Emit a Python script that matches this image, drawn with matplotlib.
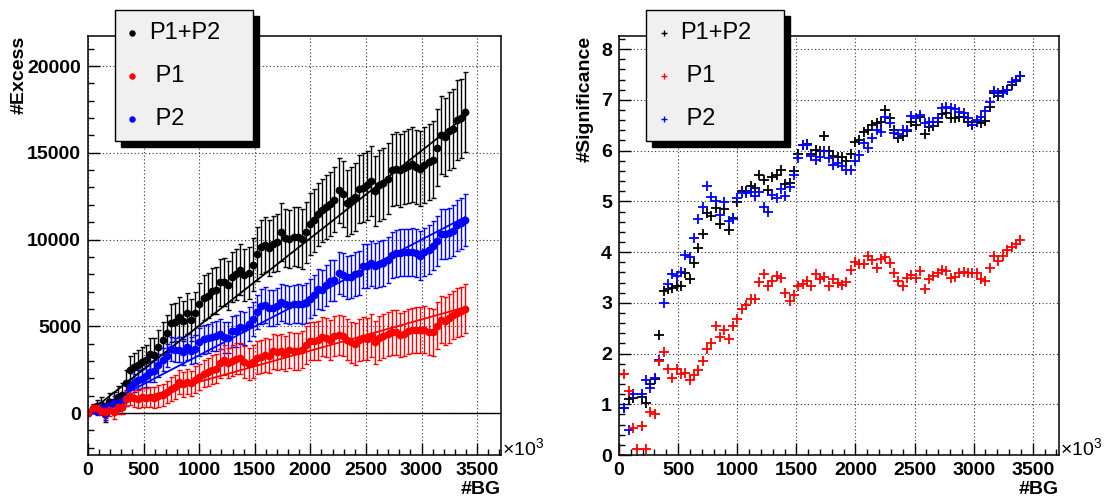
import matplotlib
matplotlib.use("Agg")
import matplotlib.pyplot as plt
from matplotlib.patches import Rectangle
from matplotlib.ticker import MultipleLocator
from matplotlib.lines import Line2D

plt.rcParams['font.family'] = ['Liberation Sans', 'DejaVu Sans']
plt.rcParams['mathtext.fontset'] = 'custom'
plt.rcParams['mathtext.rm'] = 'Liberation Sans'

# background counts (x10^3)
bg = [0, 46, 82, 119, 156, 193, 230, 266, 303, 340,
      377, 414, 450, 487, 524, 561, 598, 634, 671, 708,
      745, 782, 818, 855, 892, 929, 966, 1002, 1039, 1076,
      1113, 1150, 1186, 1223, 1260, 1297, 1334, 1370, 1407, 1444,
      1481, 1518, 1554, 1591, 1628, 1665, 1702, 1738, 1775, 1812,
      1849, 1886, 1922, 1959, 1996, 2033, 2070, 2106, 2143, 2180,
      2217, 2254, 2290, 2327, 2364, 2401, 2438, 2474, 2511, 2548,
      2585, 2622, 2658, 2695, 2732, 2769, 2806, 2842, 2879, 2916,
      2953, 2990, 3026, 3063, 3100, 3137, 3174, 3210, 3247, 3284,
      3321, 3358, 3394]

# excess
exc_p12 = [0, 249, 396, 486, -50, 628, 619, 907, 1037, 1728,
           2490, 2639, 2770, 2926, 3036, 3375, 3369, 3790, 4209, 4594,
           5177, 5239, 5532, 5283, 5740, 5372, 5758, 6260, 6656, 6770,
           7030, 7080, 7532, 7537, 7369, 7851, 7990, 8247, 7966, 8088,
           8542, 9174, 9562, 9710, 9500, 9752, 9828, 10423, 10095, 10038,
           10172, 10134, 10038, 10423, 10905, 11098, 11444, 11676, 11868, 12061,
           12292, 12832, 12639, 12099, 12253, 12446, 12928, 12986, 13121, 13371,
           12774, 13121, 13256, 13506, 13988, 14084, 13988, 14142, 14219, 14335,
           14181, 14084, 14277, 14470, 14604, 15298, 16011, 15915, 16262, 16397,
           16879, 16975, 17360]
exc_p1 = [0, 262, 280, 144, 34, 193, 41, 338, 344, 833,
          962, 838, 787, 911, 889, 931, 884, 972, 1055, 1207,
          1385, 1507, 1780, 1654, 1801, 1704, 1925, 2072, 2259, 2360,
          2507, 2547, 2864, 3045, 2892, 3015, 3136, 3151, 2919, 2809,
          2967, 3176, 3252, 3337, 3290, 3546, 3494, 3560, 3423, 3605,
          3556, 3558, 3649, 3931, 4142, 4147, 4185, 4402, 4335, 4203,
          4447, 4516, 4427, 4225, 4068, 3983, 4193, 4298, 4268, 4460,
          4067, 4322, 4428, 4549, 4641, 4648, 4496, 4567, 4699, 4758,
          4760, 4776, 4804, 4674, 4661, 5044, 5386, 5283, 5449, 5662,
          5779, 5868, 6015]
exc_p2 = [0, 158, 114, 334, -64, 428, 567, 553, 675, 879,
          1480, 1754, 1931, 1982, 2108, 2386, 2430, 2741, 3080, 3314,
          3696, 3629, 3650, 3536, 3795, 3582, 3683, 4091, 4242, 4314,
          4408, 4412, 4548, 4362, 4344, 4700, 4720, 4947, 4881, 5116,
          5405, 5809, 6151, 6224, 6071, 6053, 6175, 6378, 6283, 6212,
          6308, 6310, 6272, 6345, 6595, 6808, 7134, 7079, 7375, 7634,
          7638, 8071, 7979, 7811, 7849, 8013, 8058, 8483, 8486, 8636,
          8476, 8580, 8640, 8805, 9118, 9206, 9241, 9268, 9261, 9281,
          9203, 9075, 9274, 9411, 9642, 9925, 10310, 10303, 10360, 10519,
          10819, 10930, 11115]

# excess errors
err_p12 = [0, 268, 360, 434, 496, 551, 601, 648, 691, 732,
           771, 807, 842, 876, 909, 940, 971, 1000, 1029, 1056,
           1083, 1110, 1136, 1161, 1186, 1210, 1233, 1257, 1280, 1302,
           1324, 1346, 1367, 1388, 1409, 1430, 1450, 1470, 1489, 1509,
           1528, 1547, 1565, 1584, 1602, 1620, 1638, 1655, 1673, 1690,
           1707, 1724, 1741, 1757, 1774, 1790, 1806, 1822, 1838, 1854,
           1869, 1885, 1900, 1915, 1930, 1945, 1960, 1975, 1989, 2004,
           2018, 2033, 2047, 2061, 2075, 2089, 2103, 2116, 2130, 2144,
           2157, 2171, 2184, 2197, 2210, 2224, 2236, 2249, 2262, 2275,
           2288, 2300, 2313]
err_p1 = [0, 165, 222, 266, 305, 339, 370, 398, 425, 450,
          474, 496, 518, 539, 559, 578, 597, 615, 632, 649,
          666, 682, 698, 713, 729, 744, 758, 773, 787, 800,
          814, 827, 840, 853, 866, 879, 891, 903, 915, 927,
          939, 951, 962, 973, 985, 996, 1007, 1017, 1028, 1039,
          1049, 1059, 1070, 1080, 1090, 1100, 1110, 1120, 1129, 1139,
          1149, 1158, 1168, 1177, 1186, 1196, 1205, 1214, 1223, 1232,
          1240, 1249, 1258, 1267, 1275, 1284, 1292, 1301, 1309, 1318,
          1326, 1334, 1342, 1351, 1359, 1367, 1374, 1383, 1390, 1398,
          1406, 1414, 1422]
err_p2 = [0, 172, 232, 278, 318, 354, 386, 416, 444, 470,
          495, 519, 541, 563, 584, 604, 623, 642, 661, 679,
          696, 713, 730, 746, 762, 777, 792, 807, 822, 836,
          851, 865, 878, 892, 905, 918, 931, 944, 957, 969,
          981, 993, 1005, 1017, 1029, 1040, 1052, 1063, 1074, 1086,
          1097, 1107, 1118, 1129, 1139, 1150, 1160, 1170, 1180, 1191,
          1201, 1210, 1220, 1230, 1240, 1250, 1259, 1268, 1278, 1287,
          1296, 1306, 1315, 1324, 1333, 1342, 1351, 1359, 1368, 1377,
          1386, 1394, 1403, 1411, 1420, 1428, 1436, 1445, 1453, 1461,
          1470, 1477, 1486]

# significance
sig_p12 = [0, 0.93, 1.10, 1.12, -0.1, 1.14, 1.03, 1.40, 1.50, 2.36,
           3.23, 3.27, 3.29, 3.34, 3.34, 3.59, 3.47, 3.79, 4.09, 4.35,
           4.78, 4.72, 4.87, 4.55, 4.84, 4.44, 4.67, 4.98, 5.20, 5.20,
           5.31, 5.26, 5.51, 5.43, 5.23, 5.49, 5.51, 5.61, 5.35, 5.36,
           5.59, 5.93, 6.11, 6.13, 5.93, 6.02, 6.00, 6.28, 6.00, 5.90,
           5.87, 5.87, 5.80, 5.94, 6.17, 6.20, 6.36, 6.41, 6.51, 6.54,
           6.57, 6.80, 6.64, 6.40, 6.25, 6.29, 6.38, 6.57, 6.51, 6.66,
           6.33, 6.46, 6.48, 6.56, 6.73, 6.74, 6.64, 6.64, 6.66, 6.67,
           6.57, 6.51, 6.56, 6.54, 6.59, 6.87, 7.13, 7.08, 7.17, 7.20,
           7.30, 7.38, 7.48]
sig_p1 = [0, 1.59, 1.26, 0.54, 0.11, 0.57, 0.11, 0.85, 0.81, 1.85,
          2.03, 1.69, 1.52, 1.69, 1.59, 1.61, 1.48, 1.58, 1.67, 1.86,
          2.08, 2.21, 2.55, 2.32, 2.47, 2.29, 2.54, 2.68, 2.87, 2.95,
          3.08, 3.08, 3.41, 3.57, 3.34, 3.43, 3.52, 3.49, 3.19, 3.03,
          3.16, 3.34, 3.38, 3.43, 3.34, 3.56, 3.47, 3.50, 3.33, 3.47,
          3.39, 3.36, 3.41, 3.64, 3.80, 3.77, 3.77, 3.93, 3.84, 3.69,
          3.87, 3.90, 3.79, 3.59, 3.43, 3.33, 3.48, 3.54, 3.49, 3.62,
          3.28, 3.46, 3.52, 3.59, 3.64, 3.62, 3.48, 3.51, 3.59, 3.61,
          3.59, 3.58, 3.58, 3.46, 3.43, 3.69, 3.92, 3.82, 3.92, 4.05,
          4.11, 4.15, 4.23]
sig_p2 = [0, 0.92, 0.49, 1.20, -0.2, 1.21, 1.47, 1.33, 1.52, 1.87,
          2.99, 3.38, 3.57, 3.52, 3.61, 3.95, 3.90, 4.27, 4.66, 4.88,
          5.31, 5.09, 5.00, 4.74, 4.98, 4.61, 4.65, 5.07, 5.16, 5.16,
          5.18, 5.10, 5.18, 4.89, 4.80, 5.12, 5.07, 5.24, 5.10, 5.28,
          5.51, 5.85, 6.12, 6.12, 5.90, 5.82, 5.87, 6.00, 5.85, 5.72,
          5.75, 5.70, 5.61, 5.62, 5.79, 5.92, 6.15, 6.05, 6.25, 6.41,
          6.36, 6.67, 6.54, 6.35, 6.33, 6.41, 6.40, 6.69, 6.64, 6.71,
          6.54, 6.57, 6.57, 6.65, 6.84, 6.86, 6.84, 6.82, 6.77, 6.74,
          6.64, 6.51, 6.61, 6.67, 6.79, 6.95, 7.18, 7.13, 7.13, 7.20,
          7.36, 7.40, 7.48]

# straight-line fits: (x start, x end), (y start, y end)
fit_x = [0, 3394]
fit_p12 = [0, 17100]
fit_p1 = [0, 6100]
fit_p2 = [0, 11300]

names = ["P1+P2", " P1", " P2"]
colors = ["black", "red", "blue"]

W, H = 1104, 500
fig = plt.figure(figsize=(W / 100, H / 100), dpi=100)
fig.patch.set_facecolor("white")


def px(x, y):
    return x / W, 1 - y / H


def style_axes(ax, xminor, ymajor, yminor):
    ax.xaxis.set_major_locator(MultipleLocator(500))
    ax.xaxis.set_minor_locator(MultipleLocator(xminor))
    ax.yaxis.set_major_locator(MultipleLocator(ymajor))
    ax.yaxis.set_minor_locator(MultipleLocator(yminor))
    ax.tick_params(which="both", direction="in", top=False, right=False,
                   labelsize=14, width=1)
    ax.tick_params(which="major", length=8.6, pad=5)
    ax.tick_params(which="minor", length=4.3)
    for lab in ax.get_xticklabels() + ax.get_yticklabels():
        lab.set_fontweight("bold")
    ax.grid(True, which="major", color="#333333", lw=0.8, ls=(0, (1, 2.2)))
    ax.set_axisbelow(True)
    for s in ax.spines.values():
        s.set_linewidth(1.1)


# left panel: excess
axL = fig.add_axes([88 / W, 45 / H, 413 / W, 419 / H])
axL.axhline(0, color="black", lw=1)
for y, e, c in [(exc_p12, err_p12, "black"), (exc_p2, err_p2, "blue"),
                (exc_p1, err_p1, "red")]:
    axL.errorbar(bg, y, yerr=e, fmt="o", color=c, ms=4.6, elinewidth=1,
                 capsize=1.8, capthick=1)
for fy, c in [(fit_p12, "black"), (fit_p2, "blue"), (fit_p1, "red")]:
    axL.plot(fit_x, fy, color=c, lw=1.3)
axL.set_xlim(0, 3715)
axL.set_ylim(-2420, 21730)
style_axes(axL, 100, 5000, 1000)

# right panel: significance
axR = fig.add_axes([619 / W, 45 / H, 440 / W, 419 / H])
for y, c in [(sig_p12, "black"), (sig_p2, "blue"), (sig_p1, "red")]:
    axR.plot(bg, y, ls="none", marker="+", color=c, ms=7.5, mew=1.3)
axR.set_xlim(0, 3722)
axR.set_ylim(0, 8.26)
style_axes(axR, 100, 1, 0.2)
axR.set_yticklabels([str(int(t)) for t in axR.get_yticks()])
for lab in axR.get_yticklabels():
    lab.set_fontweight("bold")

# axis titles
fig.text(*px(19, 36), "#Excess", rotation=90, ha="center", va="top",
         fontsize=14, fontweight="bold")
fig.text(*px(585, 36), "#Significance", rotation=90, ha="center", va="top",
         fontsize=14, fontweight="bold")
for xr in (501, 1059):
    fig.text(*px(xr, 490), "#BG", ha="right", va="center",
             fontsize=14, fontweight="bold")
    fig.text(*px(xr + 1, 456), r"$\times10^{3}$", ha="left", va="baseline",
             fontsize=14)


# legends drawn in figure pixels
def legend_box(x0, x1, mk_x, txt_x, marker, ms):
    y0, y1 = 10, 141
    sh = Rectangle(px(x0 + 6, y1 + 6), (x1 - x0) / W, (y1 - y0) / H,
                   transform=fig.transFigure, facecolor="black",
                   edgecolor="black", zorder=10)
    bx = Rectangle(px(x0, y1), (x1 - x0) / W, (y1 - y0) / H,
                   transform=fig.transFigure, facecolor="#f0f0f0",
                   edgecolor="black", lw=1, zorder=11)
    fig.patches.extend([sh, bx])
    for k, (n, c) in enumerate(zip(names, colors)):
        yy = 33 + 43 * k
        mx, my = px(mk_x, yy)
        fig.lines.append(Line2D([mx], [my], marker=marker, color=c, ms=ms,
                                mew=1, transform=fig.transFigure, zorder=12))
        fig.text(*px(txt_x, yy), n, ha="left", va="center", fontsize=17,
                 zorder=12)


legend_box(115, 253, 132, 149, "o", 3.6)
legend_box(646, 784, 664, 680, "+", 5)

fig.savefig("out.png", dpi=100)
